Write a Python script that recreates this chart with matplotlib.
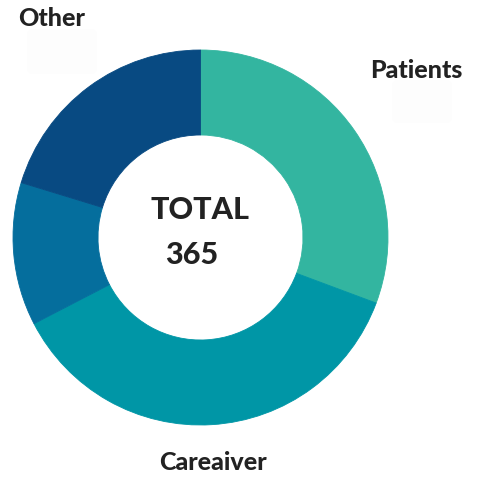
import matplotlib
matplotlib.use('Agg')
import matplotlib.pyplot as plt
from matplotlib.patches import FancyBboxPatch

# data for the donut
labels = ['Patients', 'Careaiver', '', 'Other']
counts = [112, 134, 45, 74]
colors = ['#33b5a0', '#0096a6', '#056e9d', '#084a82']
total = sum(counts)

plt.rcParams['font.family'] = ['Lato', 'DejaVu Sans']

fig = plt.figure(figsize=(4.82, 4.79), dpi=100)
ax = fig.add_axes([0, 0, 1, 1])

# pixel coords -> data coords (y flipped)
H = 479
cx, cy, R = 200.5, H - 237.5, 187.5

wedges, _ = ax.pie(counts, colors=colors, startangle=90, counterclock=False,
                   center=(cx, cy), radius=R, frame=True,
                   wedgeprops=dict(width=85, linewidth=0.6))
for w in wedges:
    w.set_edgecolor(w.get_facecolor())
ax.set_xlim(0, 482)
ax.set_ylim(0, 479)
ax.set_aspect('equal')
ax.axis('off')

# faint boxes behind the labels
for x0, y0, w, h in [(27, 29, 70, 45), (392, 80, 60, 43)]:
    ax.add_patch(FancyBboxPatch((x0, H - y0 - h), w, h, boxstyle='round,pad=0,rounding_size=6',
                                fc='#fdfdfd', ec='none', zorder=0))

ax.text(200, H - 210, 'TOTAL', ha='center', va='center', fontsize=22, fontweight='black', color='#222222')
ax.text(192, H - 255, str(total), ha='center', va='center', fontsize=22, fontweight='black', color='#222222')

ax.text(52, H - 18, 'Other', ha='center', va='center', fontsize=18, fontweight='black', color='#222222')
ax.text(416, H - 70, 'Patients', ha='center', va='center', fontsize=18, fontweight='black', color='#222222')
ax.text(213, H - 463, labels[1], ha='center', va='center', fontsize=18, fontweight='black', color='#222222')

fig.savefig('out.png', dpi=100)
